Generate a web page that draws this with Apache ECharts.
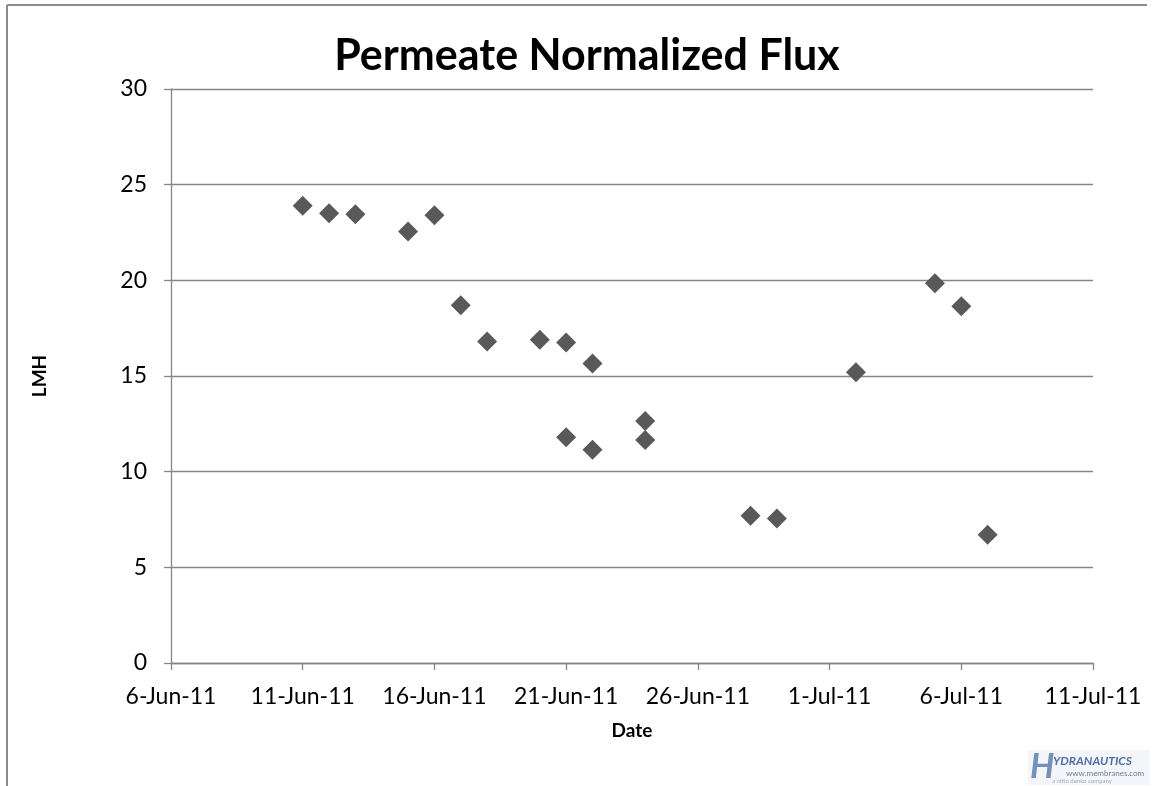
<!DOCTYPE html>
<html>
<head>
<meta charset="utf-8">
<title>Permeate Normalized Flux</title>
<script src="https://cdn.jsdelivr.net/npm/echarts@6/dist/echarts.min.js"></script>
<style>
  html, body { margin: 0; padding: 0; background: #fff; }
  #chart { width: 1157px; height: 786px; }
</style>
</head>
<body>
<div id="chart"></div>
<script>
// Sample dates and normalized permeate flux (LMH)
const sampleDates = [
  '2011-06-11', '2011-06-12', '2011-06-13', '2011-06-15', '2011-06-16',
  '2011-06-17', '2011-06-18', '2011-06-20', '2011-06-21', '2011-06-21',
  '2011-06-22', '2011-06-22', '2011-06-24', '2011-06-24', '2011-06-28',
  '2011-06-29', '2011-07-02', '2011-07-05', '2011-07-06', '2011-07-07'
];
const fluxLMH = [
  23.9, 23.5, 23.45, 22.55, 23.4,
  18.7, 16.8, 16.9, 16.75, 11.8,
  15.65, 11.15, 12.65, 11.65, 7.7,
  7.55, 15.2, 19.85, 18.65, 6.7
];
// Date axis: starts 6-Jun-11, labelled every 5 days
const axisStartDate = '2011-06-06';
const xTickLabels = ['6-Jun-11', '11-Jun-11', '16-Jun-11', '21-Jun-11', '26-Jun-11', '1-Jul-11', '6-Jul-11', '11-Jul-11'];
const yTickLabels = ['0', '5', '10', '15', '20', '25', '30'];

const DAY = 86400000;
function utc(s) {
  const p = s.split('-').map(Number);
  return Date.UTC(p[0], p[1] - 1, p[2]);
}
const base = utc(axisStartDate);
const points = sampleDates.map((d, i) => [(utc(d) - base) / DAY, fluxLMH[i]]);

const FONT = 'Lato, "Open Sans", sans-serif';
const AXIS_GREY = '#868686';

const chart = echarts.init(document.getElementById('chart'), null, { renderer: 'canvas' });
chart.setOption({
  animation: false,
  backgroundColor: '#ffffff',
  grid: { left: 171, right: 64, top: 89, bottom: 123, containLabel: false },
  xAxis: {
    type: 'value',
    min: 0,
    max: (xTickLabels.length - 1) * 5,
    interval: 5,
    name: 'Date',
    nameLocation: 'middle',
    nameGap: 58,
    nameTextStyle: { fontFamily: FONT, fontWeight: 'bold', fontSize: 19, color: '#000' },
    axisLine: { show: true, lineStyle: { color: AXIS_GREY, width: 1.3 } },
    axisTick: { show: true, length: 7, lineStyle: { color: AXIS_GREY, width: 1.3 } },
    axisLabel: {
      fontFamily: FONT, fontSize: 23, color: '#000', margin: 22,
      formatter: v => xTickLabels[Math.round(v / 5)] || ''
    },
    splitLine: { show: false }
  },
  yAxis: {
    type: 'value',
    min: 0,
    max: 30,
    interval: 5,
    name: 'LMH',
    nameLocation: 'middle',
    nameGap: 122,
    nameRotate: 90,
    nameTextStyle: { fontFamily: FONT, fontWeight: 'bold', fontSize: 19, color: '#000' },
    axisLine: { show: true, lineStyle: { color: AXIS_GREY, width: 1.3 } },
    axisTick: { show: true, length: 7, lineStyle: { color: AXIS_GREY, width: 1.3 } },
    axisLabel: {
      fontFamily: FONT, fontSize: 23, color: '#000', margin: 24,
      formatter: v => yTickLabels[Math.round(v / 5)] || ''
    },
    splitLine: { show: true, lineStyle: { color: AXIS_GREY, width: 1.4 } }
  },
  series: [{
    type: 'scatter',
    data: points,
    symbol: 'diamond',
    symbolSize: 20,
    itemStyle: { color: '#595959', opacity: 1 },
    z: 5
  }],
  graphic: [
    // outer frame (top and left edges)
    { type: 'line', shape: { x1: 7, y1: 5, x2: 1147, y2: 5 }, style: { stroke: '#8a8a8a', lineWidth: 2 } },
    { type: 'line', shape: { x1: 7, y1: 5, x2: 7, y2: 786 }, style: { stroke: '#8a8a8a', lineWidth: 2 } },
    // chart title
    {
      type: 'text', x: 587, y: 56,
      style: {
        text: 'Permeate Normalized Flux', fill: '#000',
        font: 'bold 43px ' + FONT, textAlign: 'center', textVerticalAlign: 'middle'
      }
    },
    // company logo, lower right
    {
      type: 'group', x: 1028, y: 750,
      children: [
        { type: 'rect', shape: { x: 0, y: 0, width: 122, height: 35 }, style: { fill: '#f3f5f8' } },
        { type: 'text', x: 2, y: 0, style: { text: 'H', fill: '#7391bb', font: 'italic bold 34px ' + FONT } },
        { type: 'text', x: 25, y: 5, style: { text: 'YDRANAUTICS', fill: '#4f6fa8', font: 'italic bold 12px ' + FONT } },
        { type: 'text', x: 38, y: 19, style: { text: 'www.membranes.com', fill: '#6a7f9e', font: '8px ' + FONT } },
        { type: 'text', x: 24, y: 28, style: { text: 'a nitto denko company', fill: '#a0aec0', font: '6px ' + FONT } }
      ]
    }
  ]
});
</script>
</body>
</html>
